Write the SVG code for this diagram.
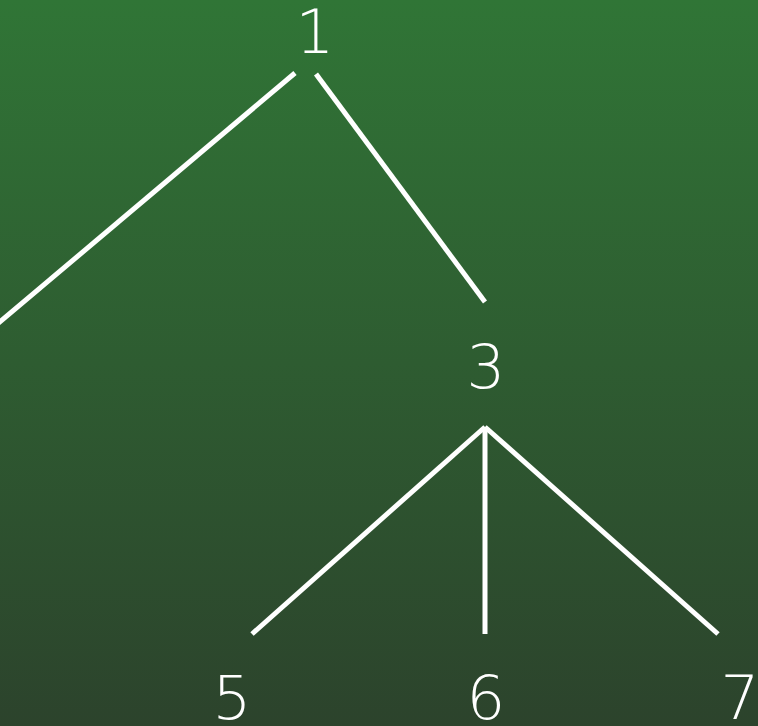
<svg xmlns="http://www.w3.org/2000/svg" width="758" height="726" viewBox="0 0 758 726">
<defs>
<linearGradient id="bg" x1="0" y1="0" x2="0" y2="1">
<stop offset="0" stop-color="#307536"/>
<stop offset="1" stop-color="#2c432c"/>
</linearGradient>
<style>
.lbl{font-family:"DejaVu Sans",sans-serif;font-weight:200;font-size:61px;fill:#ffffff;text-anchor:middle}
.edge{stroke:#ffffff;stroke-width:5;fill:none}
</style>
</defs>
<rect x="0" y="0" width="758" height="726" fill="url(#bg)"/>
<g id="connectors">
<line class="edge" x1="295" y1="73" x2="-5" y2="326"/>
<line class="edge" x1="316" y1="74" x2="485" y2="302"/>
<line class="edge" x1="485" y1="427" x2="252" y2="634"/>
<line class="edge" x1="485" y1="427" x2="485" y2="634"/>
<line class="edge" x1="485" y1="427" x2="718" y2="634"/>
</g>
<g id="node1"><text class="lbl" x="315" y="53">1</text></g>
<g id="node3"><text class="lbl" x="486" y="388">3</text></g>
<g id="node5"><text class="lbl" x="232" y="719">5</text></g>
<g id="node6"><text class="lbl" x="486" y="719">6</text></g>
<g id="node7"><text class="lbl" x="740" y="719">7</text></g>
</svg>
